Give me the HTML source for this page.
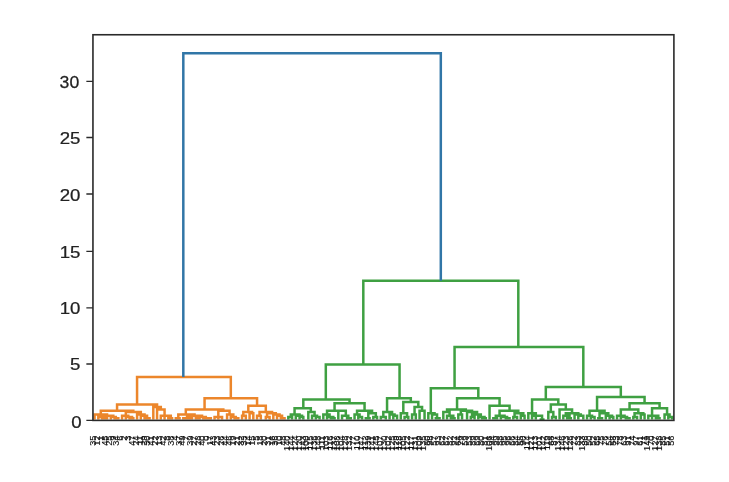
<!DOCTYPE html>
<html><head><meta charset="utf-8"><title>Dendrogram</title>
<style>html,body{margin:0;padding:0;background:#fff;width:729px;height:482px;overflow:hidden}svg{display:block;will-change:transform}</style>
</head><body>
<svg width="729" height="482" viewBox="0 0 729 482">
<rect width="729" height="482" fill="#fff"/><g >
<g fill="none" stroke-width="2.50" stroke-linejoin="miter" stroke-linecap="butt"><path d="M102.06 419.49 L102.06 418.24 L107.06 418.24 L107.06 419.49 M98.31 419.49 L98.31 416.99 L104.56 416.99 L104.56 418.24 M114.56 419.49 L114.56 418.24 L118.31 418.24 L118.31 419.49 M110.81 419.49 L110.81 416.99 L115.81 416.99 L115.81 418.24 M102.06 416.99 L102.06 415.74 L113.31 415.74 L113.31 416.99 M94.56 419.49 L94.56 414.49 L107.06 414.49 L107.06 415.74 M129.56 419.49 L129.56 418.24 L133.31 418.24 L133.31 419.49 M125.81 419.49 L125.81 416.99 L132.06 416.99 L132.06 418.24 M122.06 419.49 L122.06 415.74 L128.31 415.74 L128.31 416.99 M144.56 419.49 L144.56 418.24 L149.56 418.24 L149.56 419.49 M140.81 419.49 L140.81 415.74 L147.06 415.74 L147.06 418.24 M137.06 419.49 L137.06 414.49 L144.56 414.49 L144.56 415.74 M125.81 415.74 L125.81 411.99 L140.81 411.99 L140.81 414.49 M100.81 414.49 L100.81 410.74 L133.31 410.74 L133.31 411.99 M168.31 419.49 L168.31 418.24 L172.06 418.24 L172.06 419.49 M164.56 419.49 L164.56 415.74 L170.81 415.74 L170.81 418.24 M160.81 419.49 L160.81 415.74 L167.06 415.74 L167.06 415.74 M157.06 419.49 L157.06 409.49 L164.56 409.49 L164.56 415.74 M153.31 419.49 L153.31 406.99 L160.81 406.99 L160.81 409.49 M117.06 410.74 L117.06 404.49 L157.06 404.49 L157.06 406.99 M175.81 419.49 L175.81 418.24 L179.56 418.24 L179.56 419.49 M188.31 419.49 L188.31 418.24 L192.06 418.24 L192.06 419.49 M183.31 419.49 L183.31 418.24 L189.56 418.24 L189.56 418.24 M195.81 419.49 L195.81 418.24 L199.56 418.24 L199.56 419.49 M207.06 419.49 L207.06 418.24 L210.81 418.24 L210.81 419.49 M203.31 419.49 L203.31 418.24 L209.56 418.24 L209.56 418.24 M197.06 418.24 L197.06 416.99 L205.81 416.99 L205.81 418.24 M187.06 418.24 L187.06 415.74 L202.06 415.74 L202.06 416.99 M178.31 418.24 L178.31 414.49 L194.56 414.49 L194.56 415.74 M218.31 419.49 L218.31 416.99 L222.06 416.99 L222.06 419.49 M214.56 419.49 L214.56 416.99 L220.81 416.99 L220.81 416.99 M234.56 419.49 L234.56 418.24 L238.31 418.24 L238.31 419.49 M230.81 419.49 L230.81 416.99 L235.81 416.99 L235.81 418.24 M227.06 419.49 L227.06 414.49 L233.31 414.49 L233.31 416.99 M218.31 416.99 L218.31 410.74 L229.56 410.74 L229.56 414.49 M185.81 414.49 L185.81 409.49 L223.31 409.49 L223.31 410.74 M242.06 419.49 L242.06 415.74 L245.81 415.74 L245.81 419.49 M249.56 419.49 L249.56 413.24 L253.31 413.24 L253.31 419.49 M243.31 415.74 L243.31 411.99 L252.06 411.99 L252.06 413.24 M257.06 419.49 L257.06 415.74 L260.81 415.74 L260.81 419.49 M265.81 419.49 L265.81 416.99 L269.56 416.99 L269.56 419.49 M280.81 419.49 L280.81 418.24 L284.56 418.24 L284.56 419.49 M277.06 419.49 L277.06 415.74 L282.06 415.74 L282.06 418.24 M273.31 419.49 L273.31 414.49 L279.56 414.49 L279.56 415.74 M267.06 416.99 L267.06 413.24 L275.81 413.24 L275.81 414.49 M259.56 415.74 L259.56 411.99 L272.06 411.99 L272.06 413.24 M248.31 411.99 L248.31 405.74 L265.81 405.74 L265.81 411.99 M204.56 409.49 L204.56 398.24 L257.06 398.24 L257.06 405.74 M137.06 404.49 L137.06 376.99 L230.81 376.99 L230.81 398.24" stroke="#ec862b"/><path d="M288.31 419.49 L288.31 416.99 L292.06 416.99 L292.06 419.49 M299.56 419.49 L299.56 416.99 L303.31 416.99 L303.31 419.49 M295.81 419.49 L295.81 415.74 L302.06 415.74 L302.06 416.99 M290.81 416.99 L290.81 414.49 L299.56 414.49 L299.56 415.74 M315.81 419.49 L315.81 416.99 L319.56 416.99 L319.56 419.49 M312.06 419.49 L312.06 415.74 L317.06 415.74 L317.06 416.99 M308.31 419.49 L308.31 411.99 L314.56 411.99 L314.56 415.74 M294.56 414.49 L294.56 408.24 L310.81 408.24 L310.81 411.99 M330.81 419.49 L330.81 418.24 L334.56 418.24 L334.56 419.49 M327.06 419.49 L327.06 416.99 L333.31 416.99 L333.31 418.24 M323.31 419.49 L323.31 414.49 L329.56 414.49 L329.56 416.99 M347.06 419.49 L347.06 418.24 L350.81 418.24 L350.81 419.49 M342.06 419.49 L342.06 415.74 L348.31 415.74 L348.31 418.24 M338.31 419.49 L338.31 410.74 L345.81 410.74 L345.81 415.74 M327.06 414.49 L327.06 410.74 L342.06 410.74 L342.06 410.74 M358.31 419.49 L358.31 416.99 L362.06 416.99 L362.06 419.49 M354.56 419.49 L354.56 414.49 L359.56 414.49 L359.56 416.99 M365.81 419.49 L365.81 418.24 L369.56 418.24 L369.56 419.49 M373.31 419.49 L373.31 416.99 L377.06 416.99 L377.06 419.49 M368.31 418.24 L368.31 413.24 L375.81 413.24 L375.81 416.99 M357.06 414.49 L357.06 410.74 L372.06 410.74 L372.06 413.24 M334.56 410.74 L334.56 403.24 L364.56 403.24 L364.56 410.74 M303.31 408.24 L303.31 399.49 L349.56 399.49 L349.56 403.24 M380.81 419.49 L380.81 416.99 L385.81 416.99 L385.81 419.49 M393.31 419.49 L393.31 415.74 L397.06 415.74 L397.06 419.49 M389.56 419.49 L389.56 414.49 L394.56 414.49 L394.56 415.74 M383.31 416.99 L383.31 411.99 L392.06 411.99 L392.06 414.49 M404.56 419.49 L404.56 416.99 L408.31 416.99 L408.31 419.49 M400.81 419.49 L400.81 413.24 L407.06 413.24 L407.06 416.99 M412.06 419.49 L412.06 414.49 L415.81 414.49 L415.81 419.49 M419.56 419.49 L419.56 410.74 L424.56 410.74 L424.56 419.49 M414.56 414.49 L414.56 406.99 L422.06 406.99 L422.06 410.74 M403.31 413.24 L403.31 401.99 L418.31 401.99 L418.31 406.99 M387.06 411.99 L387.06 398.24 L410.81 398.24 L410.81 401.99 M325.81 399.49 L325.81 364.49 L399.56 364.49 L399.56 398.24 M435.81 419.49 L435.81 418.24 L439.56 418.24 L439.56 419.49 M432.06 419.49 L432.06 414.49 L437.06 414.49 L437.06 418.24 M428.31 419.49 L428.31 413.24 L434.56 413.24 L434.56 414.49 M450.81 419.49 L450.81 418.24 L454.56 418.24 L454.56 419.49 M447.06 419.49 L447.06 415.74 L453.31 415.74 L453.31 418.24 M443.31 419.49 L443.31 411.99 L449.56 411.99 L449.56 415.74 M458.31 419.49 L458.31 414.49 L462.06 414.49 L462.06 419.49 M470.81 419.49 L470.81 416.99 L474.56 416.99 L474.56 419.49 M482.06 419.49 L482.06 418.24 L485.81 418.24 L485.81 419.49 M478.31 419.49 L478.31 416.99 L484.56 416.99 L484.56 418.24 M472.06 416.99 L472.06 414.49 L480.81 414.49 L480.81 416.99 M467.06 419.49 L467.06 411.99 L477.06 411.99 L477.06 414.49 M460.81 414.49 L460.81 410.74 L472.06 410.74 L472.06 411.99 M447.06 411.99 L447.06 409.49 L465.81 409.49 L465.81 410.74 M493.31 419.49 L493.31 418.24 L497.06 418.24 L497.06 419.49 M505.81 419.49 L505.81 418.24 L509.56 418.24 L509.56 419.49 M500.81 419.49 L500.81 416.99 L507.06 416.99 L507.06 418.24 M495.81 418.24 L495.81 415.74 L504.56 415.74 L504.56 416.99 M513.31 419.49 L513.31 416.99 L517.06 416.99 L517.06 419.49 M520.81 419.49 L520.81 415.74 L524.56 415.74 L524.56 419.49 M514.56 416.99 L514.56 413.24 L523.31 413.24 L523.31 415.74 M499.56 415.74 L499.56 410.74 L518.31 410.74 L518.31 413.24 M489.56 419.49 L489.56 405.74 L509.56 405.74 L509.56 410.74 M457.06 409.49 L457.06 398.24 L499.56 398.24 L499.56 405.74 M430.81 413.24 L430.81 388.24 L478.31 388.24 L478.31 398.24 M539.56 419.49 L539.56 419.49 L544.56 419.49 L544.56 419.49 M535.81 419.49 L535.81 415.74 L542.06 415.74 L542.06 419.49 M532.06 419.49 L532.06 415.74 L539.56 415.74 L539.56 415.74 M528.31 419.49 L528.31 413.24 L535.81 413.24 L535.81 415.74 M552.06 419.49 L552.06 416.99 L555.81 416.99 L555.81 419.49 M548.31 419.49 L548.31 411.99 L553.31 411.99 L553.31 416.99 M567.06 419.49 L567.06 418.24 L570.81 418.24 L570.81 419.49 M563.31 419.49 L563.31 415.74 L569.56 415.74 L569.56 418.24 M578.31 419.49 L578.31 415.74 L583.31 415.74 L583.31 419.49 M574.56 419.49 L574.56 414.49 L580.81 414.49 L580.81 415.74 M565.81 415.74 L565.81 413.24 L578.31 413.24 L578.31 414.49 M559.56 419.49 L559.56 409.49 L572.06 409.49 L572.06 413.24 M550.81 411.99 L550.81 404.49 L565.81 404.49 L565.81 409.49 M532.06 413.24 L532.06 399.49 L558.31 399.49 L558.31 404.49 M590.81 419.49 L590.81 416.99 L594.56 416.99 L594.56 419.49 M587.06 419.49 L587.06 415.74 L592.06 415.74 L592.06 416.99 M598.31 419.49 L598.31 418.24 L602.06 418.24 L602.06 419.49 M609.56 419.49 L609.56 416.99 L613.31 416.99 L613.31 419.49 M605.81 419.49 L605.81 415.74 L612.06 415.74 L612.06 416.99 M599.56 418.24 L599.56 413.24 L608.31 413.24 L608.31 415.74 M589.56 415.74 L589.56 410.74 L604.56 410.74 L604.56 413.24 M625.81 419.49 L625.81 418.24 L629.56 418.24 L629.56 419.49 M620.81 419.49 L620.81 416.99 L627.06 416.99 L627.06 418.24 M617.06 419.49 L617.06 415.74 L624.56 415.74 L624.56 416.99 M633.31 419.49 L633.31 416.99 L637.06 416.99 L637.06 419.49 M640.81 419.49 L640.81 414.49 L644.56 414.49 L644.56 419.49 M634.56 416.99 L634.56 413.24 L643.31 413.24 L643.31 414.49 M620.81 415.74 L620.81 409.49 L638.31 409.49 L638.31 413.24 M655.81 419.49 L655.81 418.24 L659.56 418.24 L659.56 419.49 M652.06 419.49 L652.06 415.74 L658.31 415.74 L658.31 418.24 M648.31 419.49 L648.31 415.74 L655.81 415.74 L655.81 415.74 M668.31 419.49 L668.31 416.99 L672.06 416.99 L672.06 419.49 M664.56 419.49 L664.56 414.49 L669.56 414.49 L669.56 416.99 M652.06 415.74 L652.06 408.24 L667.06 408.24 L667.06 414.49 M629.56 409.49 L629.56 403.24 L659.56 403.24 L659.56 408.24 M597.06 410.74 L597.06 396.99 L644.56 396.99 L644.56 403.24 M545.81 399.49 L545.81 386.99 L620.81 386.99 L620.81 396.99 M454.56 388.24 L454.56 346.99 L583.31 346.99 L583.31 386.99 M363.31 364.49 L363.31 280.74 L518.31 280.74 L518.31 346.99" stroke="#3fa042"/><path d="M183.31 376.99 L183.31 53.24 L440.81 53.24 L440.81 280.74" stroke="#3176a7"/></g>
<rect x="92.95" y="34.75" width="580.95" height="385.65" fill="none" stroke="#2a2a2a" stroke-width="1.60"/>
<path d="M86.35 420.40H92.95M86.35 364.00H92.95M86.35 307.90H92.95M86.35 251.30H92.95M86.35 194.00H92.95M86.35 137.50H92.95M86.35 81.40H92.95" stroke="#2a2a2a" stroke-width="1.30"/>
<g font-family="Liberation Sans, sans-serif" font-size="16.80px" text-anchor="end" fill="#222" stroke="#222" stroke-width="0.25"><text transform="translate(81.75 427.55) scale(1.110 1)">0</text><text transform="translate(80.40 370.15) scale(1.110 1)">5</text><text transform="translate(80.40 314.05) scale(1.110 1)">10</text><text transform="translate(80.40 258.45) scale(1.110 1)">15</text><text transform="translate(80.40 201.15) scale(1.110 1)">20</text><text transform="translate(80.40 143.65) scale(1.110 1)">25</text><text transform="translate(79.20 87.55) scale(1.050 1)">30</text></g>
<g font-family="Liberation Sans, sans-serif" font-size="9.00px" font-weight="normal" letter-spacing="0.00" text-anchor="end" fill="#111" stroke="#111" stroke-width="0.10"><text transform="translate(96.22 435.50) rotate(-90) scale(1.030 1)">35</text><text transform="translate(100.10 435.50) rotate(-90) scale(1.030 1)">12</text><text transform="translate(103.98 435.50) rotate(-90) scale(1.030 1)">1</text><text transform="translate(107.85 435.50) rotate(-90) scale(1.030 1)">45</text><text transform="translate(111.73 435.50) rotate(-90) scale(1.030 1)">25</text><text transform="translate(115.60 435.50) rotate(-90) scale(1.030 1)">9</text><text transform="translate(119.48 435.50) rotate(-90) scale(1.030 1)">34</text><text transform="translate(123.36 435.50) rotate(-90) scale(1.030 1)">6</text><text transform="translate(127.23 435.50) rotate(-90) scale(1.030 1)">2</text><text transform="translate(131.11 435.50) rotate(-90) scale(1.030 1)">3</text><text transform="translate(134.98 435.50) rotate(-90) scale(1.030 1)">47</text><text transform="translate(138.86 435.50) rotate(-90) scale(1.030 1)">24</text><text transform="translate(142.74 435.50) rotate(-90) scale(1.030 1)">11</text><text transform="translate(146.61 435.50) rotate(-90) scale(1.030 1)">29</text><text transform="translate(150.49 435.50) rotate(-90) scale(1.030 1)">30</text><text transform="translate(154.36 435.50) rotate(-90) scale(1.030 1)">41</text><text transform="translate(158.24 435.50) rotate(-90) scale(1.030 1)">22</text><text transform="translate(162.12 435.50) rotate(-90) scale(1.030 1)">13</text><text transform="translate(165.99 435.50) rotate(-90) scale(1.030 1)">42</text><text transform="translate(169.87 435.50) rotate(-90) scale(1.030 1)">8</text><text transform="translate(173.74 435.50) rotate(-90) scale(1.030 1)">38</text><text transform="translate(177.62 435.50) rotate(-90) scale(1.030 1)">4</text><text transform="translate(181.50 435.50) rotate(-90) scale(1.030 1)">37</text><text transform="translate(185.37 435.50) rotate(-90) scale(1.030 1)">49</text><text transform="translate(189.25 435.50) rotate(-90) scale(1.030 1)">7</text><text transform="translate(193.12 435.50) rotate(-90) scale(1.030 1)">39</text><text transform="translate(197.00 435.50) rotate(-90) scale(1.030 1)">27</text><text transform="translate(200.88 435.50) rotate(-90) scale(1.030 1)">28</text><text transform="translate(204.75 435.50) rotate(-90) scale(1.030 1)">40</text><text transform="translate(208.63 435.50) rotate(-90) scale(1.030 1)">0</text><text transform="translate(212.50 435.50) rotate(-90) scale(1.030 1)">17</text><text transform="translate(216.38 435.50) rotate(-90) scale(1.030 1)">43</text><text transform="translate(220.26 435.50) rotate(-90) scale(1.030 1)">23</text><text transform="translate(224.13 435.50) rotate(-90) scale(1.030 1)">26</text><text transform="translate(228.01 435.50) rotate(-90) scale(1.030 1)">44</text><text transform="translate(231.88 435.50) rotate(-90) scale(1.030 1)">46</text><text transform="translate(235.76 435.50) rotate(-90) scale(1.030 1)">19</text><text transform="translate(239.64 435.50) rotate(-90) scale(1.030 1)">21</text><text transform="translate(243.51 435.50) rotate(-90) scale(1.030 1)">32</text><text transform="translate(247.39 435.50) rotate(-90) scale(1.030 1)">33</text><text transform="translate(251.26 435.50) rotate(-90) scale(1.030 1)">14</text><text transform="translate(255.14 435.50) rotate(-90) scale(1.030 1)">15</text><text transform="translate(259.02 435.50) rotate(-90) scale(1.030 1)">5</text><text transform="translate(262.89 435.50) rotate(-90) scale(1.030 1)">18</text><text transform="translate(266.77 435.50) rotate(-90) scale(1.030 1)">20</text><text transform="translate(270.64 435.50) rotate(-90) scale(1.030 1)">31</text><text transform="translate(274.52 435.50) rotate(-90) scale(1.030 1)">16</text><text transform="translate(278.40 435.50) rotate(-90) scale(1.030 1)">36</text><text transform="translate(282.27 435.50) rotate(-90) scale(1.030 1)">10</text><text transform="translate(286.15 435.50) rotate(-90) scale(1.030 1)">48</text><text transform="translate(290.02 435.50) rotate(-90) scale(1.030 1)">140</text><text transform="translate(293.90 435.50) rotate(-90) scale(1.030 1)">144</text><text transform="translate(297.78 435.50) rotate(-90) scale(1.030 1)">124</text><text transform="translate(301.65 435.50) rotate(-90) scale(1.030 1)">120</text><text transform="translate(305.53 435.50) rotate(-90) scale(1.030 1)">143</text><text transform="translate(309.40 435.50) rotate(-90) scale(1.030 1)">100</text><text transform="translate(313.28 435.50) rotate(-90) scale(1.030 1)">115</text><text transform="translate(317.16 435.50) rotate(-90) scale(1.030 1)">136</text><text transform="translate(321.03 435.50) rotate(-90) scale(1.030 1)">148</text><text transform="translate(324.91 435.50) rotate(-90) scale(1.030 1)">111</text><text transform="translate(328.78 435.50) rotate(-90) scale(1.030 1)">103</text><text transform="translate(332.66 435.50) rotate(-90) scale(1.030 1)">116</text><text transform="translate(336.54 435.50) rotate(-90) scale(1.030 1)">137</text><text transform="translate(340.41 435.50) rotate(-90) scale(1.030 1)">108</text><text transform="translate(344.29 435.50) rotate(-90) scale(1.030 1)">104</text><text transform="translate(348.16 435.50) rotate(-90) scale(1.030 1)">128</text><text transform="translate(352.04 435.50) rotate(-90) scale(1.030 1)">132</text><text transform="translate(355.92 435.50) rotate(-90) scale(1.030 1)">77</text><text transform="translate(359.79 435.50) rotate(-90) scale(1.030 1)">110</text><text transform="translate(363.67 435.50) rotate(-90) scale(1.030 1)">147</text><text transform="translate(367.54 435.50) rotate(-90) scale(1.030 1)">112</text><text transform="translate(371.42 435.50) rotate(-90) scale(1.030 1)">139</text><text transform="translate(375.30 435.50) rotate(-90) scale(1.030 1)">141</text><text transform="translate(379.17 435.50) rotate(-90) scale(1.030 1)">145</text><text transform="translate(383.05 435.50) rotate(-90) scale(1.030 1)">107</text><text transform="translate(386.92 435.50) rotate(-90) scale(1.030 1)">130</text><text transform="translate(390.80 435.50) rotate(-90) scale(1.030 1)">102</text><text transform="translate(394.68 435.50) rotate(-90) scale(1.030 1)">125</text><text transform="translate(398.55 435.50) rotate(-90) scale(1.030 1)">129</text><text transform="translate(402.43 435.50) rotate(-90) scale(1.030 1)">118</text><text transform="translate(406.30 435.50) rotate(-90) scale(1.030 1)">105</text><text transform="translate(410.18 435.50) rotate(-90) scale(1.030 1)">122</text><text transform="translate(414.06 435.50) rotate(-90) scale(1.030 1)">117</text><text transform="translate(417.93 435.50) rotate(-90) scale(1.030 1)">131</text><text transform="translate(421.81 435.50) rotate(-90) scale(1.030 1)">109</text><text transform="translate(425.68 435.50) rotate(-90) scale(1.030 1)">135</text><text transform="translate(429.56 435.50) rotate(-90) scale(1.030 1)">60</text><text transform="translate(433.44 435.50) rotate(-90) scale(1.030 1)">98</text><text transform="translate(437.31 435.50) rotate(-90) scale(1.030 1)">57</text><text transform="translate(441.19 435.50) rotate(-90) scale(1.030 1)">93</text><text transform="translate(445.06 435.50) rotate(-90) scale(1.030 1)">62</text><text transform="translate(448.94 435.50) rotate(-90) scale(1.030 1)">67</text><text transform="translate(452.82 435.50) rotate(-90) scale(1.030 1)">82</text><text transform="translate(456.69 435.50) rotate(-90) scale(1.030 1)">92</text><text transform="translate(460.57 435.50) rotate(-90) scale(1.030 1)">64</text><text transform="translate(464.44 435.50) rotate(-90) scale(1.030 1)">79</text><text transform="translate(468.32 435.50) rotate(-90) scale(1.030 1)">59</text><text transform="translate(472.20 435.50) rotate(-90) scale(1.030 1)">53</text><text transform="translate(476.07 435.50) rotate(-90) scale(1.030 1)">89</text><text transform="translate(479.95 435.50) rotate(-90) scale(1.030 1)">69</text><text transform="translate(483.82 435.50) rotate(-90) scale(1.030 1)">80</text><text transform="translate(487.70 435.50) rotate(-90) scale(1.030 1)">81</text><text transform="translate(491.58 435.50) rotate(-90) scale(1.030 1)">106</text><text transform="translate(495.45 435.50) rotate(-90) scale(1.030 1)">94</text><text transform="translate(499.33 435.50) rotate(-90) scale(1.030 1)">99</text><text transform="translate(503.20 435.50) rotate(-90) scale(1.030 1)">88</text><text transform="translate(507.08 435.50) rotate(-90) scale(1.030 1)">95</text><text transform="translate(510.96 435.50) rotate(-90) scale(1.030 1)">96</text><text transform="translate(514.83 435.50) rotate(-90) scale(1.030 1)">66</text><text transform="translate(518.71 435.50) rotate(-90) scale(1.030 1)">84</text><text transform="translate(522.58 435.50) rotate(-90) scale(1.030 1)">55</text><text transform="translate(526.46 435.50) rotate(-90) scale(1.030 1)">90</text><text transform="translate(530.34 435.50) rotate(-90) scale(1.030 1)">114</text><text transform="translate(534.21 435.50) rotate(-90) scale(1.030 1)">121</text><text transform="translate(538.09 435.50) rotate(-90) scale(1.030 1)">113</text><text transform="translate(541.96 435.50) rotate(-90) scale(1.030 1)">101</text><text transform="translate(545.84 435.50) rotate(-90) scale(1.030 1)">142</text><text transform="translate(549.72 435.50) rotate(-90) scale(1.030 1)">119</text><text transform="translate(553.59 435.50) rotate(-90) scale(1.030 1)">68</text><text transform="translate(557.47 435.50) rotate(-90) scale(1.030 1)">87</text><text transform="translate(561.34 435.50) rotate(-90) scale(1.030 1)">134</text><text transform="translate(565.22 435.50) rotate(-90) scale(1.030 1)">146</text><text transform="translate(569.10 435.50) rotate(-90) scale(1.030 1)">123</text><text transform="translate(572.97 435.50) rotate(-90) scale(1.030 1)">126</text><text transform="translate(576.85 435.50) rotate(-90) scale(1.030 1)">72</text><text transform="translate(580.72 435.50) rotate(-90) scale(1.030 1)">83</text><text transform="translate(584.60 435.50) rotate(-90) scale(1.030 1)">133</text><text transform="translate(588.48 435.50) rotate(-90) scale(1.030 1)">86</text><text transform="translate(592.35 435.50) rotate(-90) scale(1.030 1)">50</text><text transform="translate(596.23 435.50) rotate(-90) scale(1.030 1)">52</text><text transform="translate(600.10 435.50) rotate(-90) scale(1.030 1)">65</text><text transform="translate(603.98 435.50) rotate(-90) scale(1.030 1)">75</text><text transform="translate(607.86 435.50) rotate(-90) scale(1.030 1)">76</text><text transform="translate(611.73 435.50) rotate(-90) scale(1.030 1)">54</text><text transform="translate(615.61 435.50) rotate(-90) scale(1.030 1)">58</text><text transform="translate(619.48 435.50) rotate(-90) scale(1.030 1)">73</text><text transform="translate(623.36 435.50) rotate(-90) scale(1.030 1)">78</text><text transform="translate(627.24 435.50) rotate(-90) scale(1.030 1)">63</text><text transform="translate(631.11 435.50) rotate(-90) scale(1.030 1)">91</text><text transform="translate(634.99 435.50) rotate(-90) scale(1.030 1)">74</text><text transform="translate(638.86 435.50) rotate(-90) scale(1.030 1)">97</text><text transform="translate(642.74 435.50) rotate(-90) scale(1.030 1)">61</text><text transform="translate(646.62 435.50) rotate(-90) scale(1.030 1)">71</text><text transform="translate(650.49 435.50) rotate(-90) scale(1.030 1)">149</text><text transform="translate(654.37 435.50) rotate(-90) scale(1.030 1)">70</text><text transform="translate(658.24 435.50) rotate(-90) scale(1.030 1)">127</text><text transform="translate(662.12 435.50) rotate(-90) scale(1.030 1)">138</text><text transform="translate(666.00 435.50) rotate(-90) scale(1.030 1)">85</text><text transform="translate(669.87 435.50) rotate(-90) scale(1.030 1)">51</text><text transform="translate(673.75 435.50) rotate(-90) scale(1.030 1)">56</text></g>
</g></svg>
</body></html>
